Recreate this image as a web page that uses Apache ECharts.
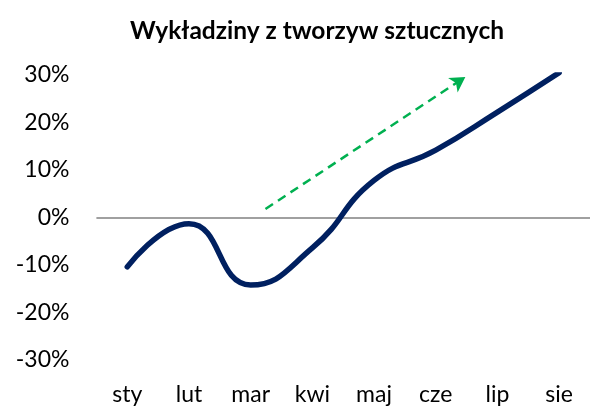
<!DOCTYPE html>
<html>
<head>
<meta charset="utf-8">
<script src="https://cdn.jsdelivr.net/npm/echarts@6/dist/echarts.min.js"></script>
<style>
  html, body { margin: 0; padding: 0; background: #fff; }
  #chart { width: 590px; height: 407px; }
</style>
</head>
<body>
<div id="chart"></div>
<script>
const months = ['sty', 'lut', 'mar', 'kwi', 'maj', 'cze', 'lip', 'sie']
const values = [-10.4, -1.3, -14.2, -6.4, 7.8, 14.2, 22.2, 30.5]
// trend arrow, [category position, value]
const arrowStart = [2.24, 1.8]
const arrowEnd = [5.48, 29.6]

const font = 'Lato, "Open Sans", sans-serif'
const chart = echarts.init(document.getElementById('chart'))
chart.setOption({
  animation: false,
  title: {
    text: 'Wykładziny z tworzyw sztucznych',
    left: 312,
    textAlign: 'center',
    top: 14,
    textStyle: { fontFamily: font, fontWeight: 'bold', fontSize: 24.5, color: '#000' }
  },
  grid: { left: 96.4, top: 75, width: 497.6, height: 285, containLabel: false },
  xAxis: [{
    type: 'category',
    data: months,
    boundaryGap: true,
    axisLine: { show: false },
    axisTick: { show: false },
    axisLabel: { margin: 23, fontFamily: font, fontSize: 23, color: '#000' }
  }, {
    type: 'value',
    min: -0.5,
    max: 7.5,
    show: false
  }],
  yAxis: {
    type: 'value',
    min: -30,
    max: 30,
    interval: 10,
    splitLine: { show: false },
    axisLine: { show: false },
    axisTick: { show: false },
    axisLabel: {
      margin: 27,
      fontFamily: font,
      fontSize: 23,
      color: '#000',
      formatter: v => v + '%'
    }
  },
  series: [{
    type: 'line',
    data: values,
    smooth: 0.5,
    showSymbol: false,
    clip: true,
    lineStyle: { color: '#002060', width: 5.5, cap: 'round' },
    z: 3,
    markLine: {
      silent: true,
      symbol: 'none',
      label: { show: false },
      lineStyle: { color: '#808080', width: 1.5, type: 'solid' },
      data: [{ yAxis: 0 }],
      z: 1
    }
  }, {
    type: 'line',
    xAxisIndex: 1,
    data: [],
    markLine: {
      silent: true,
      symbol: ['none', 'arrow'],
      symbolSize: [13, 15],
      label: { show: false },
      lineStyle: { color: '#00B050', width: 2.5, type: [9, 6] },
      data: [[{ coord: arrowStart }, { coord: arrowEnd }]]
    }
  }]
})
</script>
</body>
</html>
